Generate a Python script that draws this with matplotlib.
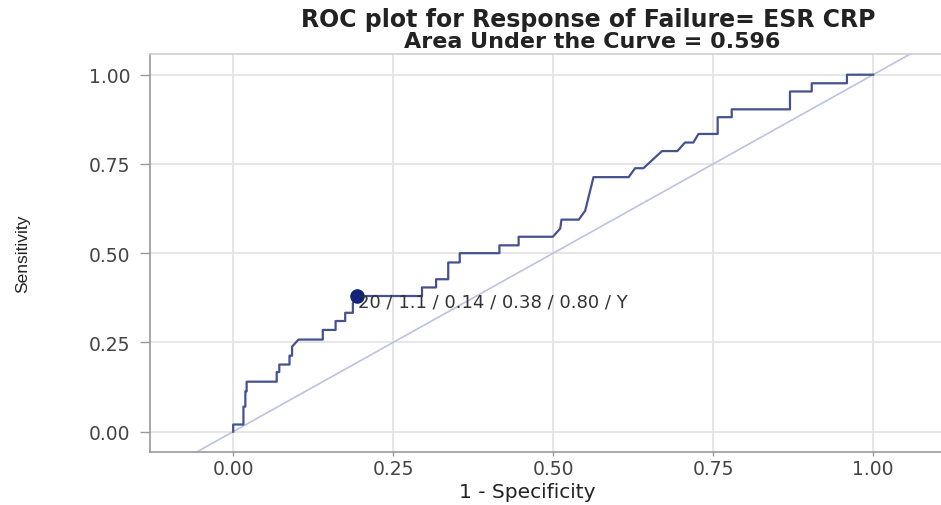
import matplotlib.pyplot as plt

# ROC curve (1 - specificity, sensitivity)
fpr = [0.0, 0.0, 0.016, 0.016, 0.019, 0.019, 0.021, 0.021, 0.068, 0.068,
       0.072, 0.072, 0.088, 0.088, 0.092, 0.092, 0.102, 0.14, 0.14, 0.16,
       0.16, 0.175, 0.175, 0.187, 0.187, 0.193, 0.295, 0.295, 0.317, 0.317,
       0.336, 0.336, 0.354, 0.354, 0.416, 0.416, 0.446, 0.446, 0.4995, 0.511,
       0.513, 0.54, 0.55, 0.563, 0.618, 0.628, 0.641, 0.67, 0.694, 0.706,
       0.719, 0.727, 0.757, 0.757, 0.779, 0.779, 0.87, 0.87, 0.904, 0.904,
       0.959, 0.959, 1.0]
tpr = [0.0, 0.02, 0.02, 0.07, 0.07, 0.113, 0.113, 0.14, 0.14, 0.167,
       0.167, 0.188, 0.188, 0.213, 0.213, 0.238, 0.258, 0.258, 0.285, 0.285,
       0.31, 0.31, 0.333, 0.333, 0.36, 0.38, 0.38, 0.404, 0.404, 0.427,
       0.427, 0.474, 0.474, 0.5, 0.5, 0.522, 0.522, 0.546, 0.546, 0.569,
       0.594, 0.594, 0.619, 0.713, 0.713, 0.738, 0.738, 0.786, 0.786, 0.81,
       0.81, 0.834, 0.834, 0.881, 0.881, 0.903, 0.903, 0.953, 0.953, 0.976,
       0.976, 1.0, 1.0]

cut_x = 0.193
cut_y = 0.38
cut_label = "20 / 1.1 / 0.14 / 0.38 / 0.80 / Y"

title1 = "ROC plot for Response of Failure= ESR CRP"
title2 = "Area Under the Curve = 0.596"
ticks = [0.0, 0.25, 0.5, 0.75, 1.0]
tick_labels = ["0.00", "0.25", "0.50", "0.75", "1.00"]

fig = plt.figure(figsize=(9.41, 5.06), dpi=100)
ax = fig.add_axes([150 / 941, 53 / 506, 791 / 941, 398 / 506])

ax.set_xlim(-0.13, 1.106)
ax.set_ylim(-0.057, 1.058)
ax.set_xticks(ticks)
ax.set_xticklabels(tick_labels)
ax.set_yticks(ticks)
ax.set_yticklabels(tick_labels)

ax.grid(color="#e4e4e4", lw=1.3)
ax.set_axisbelow(True)

ax.axline((0, 0), (1, 1), color="#bcc3e2", lw=1.2)
ax.plot(fpr, tpr, color="#46518f", lw=1.6)
ax.plot(cut_x, cut_y, "o", color="#13237a", ms=9.5)
ax.annotate(cut_label, (cut_x, cut_y), xytext=(1, -4), textcoords="offset points",
            fontsize=13, color="#333333", va="center")

for s in ["left", "bottom"]:
    ax.spines[s].set_color("#9a9a9a")
    ax.spines[s].set_linewidth(1.2)
ax.spines["top"].set_color("#cfcfcf")
ax.spines["top"].set_linewidth(1.2)
ax.spines["right"].set_visible(False)

ax.tick_params(direction="out", width=1, color="#9a9a9a",
               labelsize=13.5, labelcolor="#444444")
ax.tick_params(axis="x", length=3, pad=2)
ax.tick_params(axis="y", length=7, pad=7)

ax.set_xlabel("1 - Specificity", fontsize=14.5, color="#222222")
ax.xaxis.set_label_coords((527 - 150) / 791, -(493 - 453) / 398)
ax.xaxis.label.set_va("center")
fig.text(23 / 941, 1 - 254 / 506, "Sensitivity", rotation=90, ha="center", va="center",
         fontsize=12.5, color="#222222", family=["Liberation Sans", "DejaVu Sans"])

fig.text(588 / 941, 1 - 20 / 506, title1, ha="center", va="center",
         fontsize=17, fontweight="bold", color="#222222")
fig.text(592 / 941, 1 - 42 / 506, title2, ha="center", va="center",
         fontsize=16, fontweight="bold", color="#222222")

fig.savefig("out.png", dpi=100)
